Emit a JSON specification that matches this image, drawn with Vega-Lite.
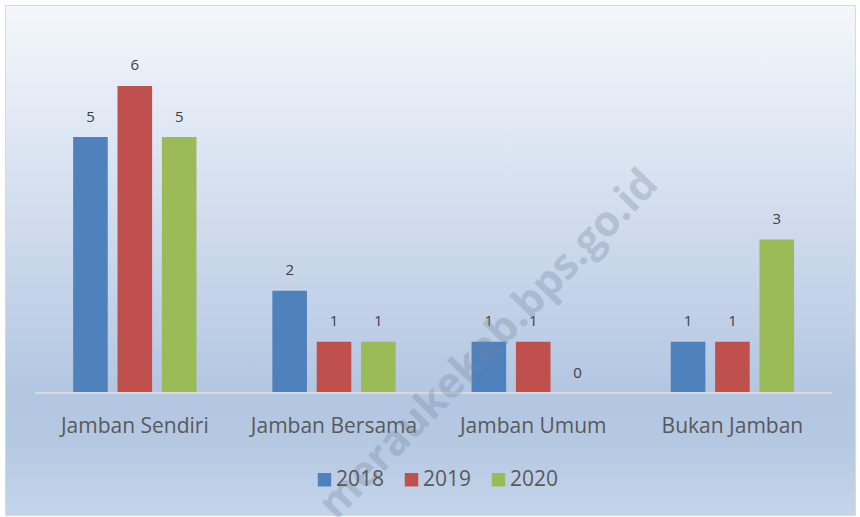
{
  "$schema": "https://vega.github.io/schema/vega-lite/v6.json",
  "width": 850,
  "height": 510,
  "autosize": {"type": "none"},
  "padding": {"left": 5, "top": 5, "right": 5, "bottom": 2},
  "background": "#ffffff",
  "view": {
    "fill": {
      "gradient": "linear", "x1": 0, "y1": 0, "x2": 0, "y2": 1,
      "stops": [
        {"offset": 0, "color": "#f4f7fc"},
        {"offset": 0.75, "color": "#b4c7e2"},
        {"offset": 0.85, "color": "#b5c8e2"},
        {"offset": 1, "color": "#c4d5ea"}
      ]
    },
    "stroke": "#d9d9d9",
    "strokeWidth": 1
  },
  "data": {
    "values": [
      {"kategori": "Jamban Sendiri", "tahun": "2018", "nilai": 5},
      {"kategori": "Jamban Sendiri", "tahun": "2019", "nilai": 6},
      {"kategori": "Jamban Sendiri", "tahun": "2020", "nilai": 5},
      {"kategori": "Jamban Bersama", "tahun": "2018", "nilai": 2},
      {"kategori": "Jamban Bersama", "tahun": "2019", "nilai": 1},
      {"kategori": "Jamban Bersama", "tahun": "2020", "nilai": 1},
      {"kategori": "Jamban Umum", "tahun": "2018", "nilai": 1},
      {"kategori": "Jamban Umum", "tahun": "2019", "nilai": 1},
      {"kategori": "Jamban Umum", "tahun": "2020", "nilai": 0},
      {"kategori": "Bukan Jamban", "tahun": "2018", "nilai": 1},
      {"kategori": "Bukan Jamban", "tahun": "2019", "nilai": 1},
      {"kategori": "Bukan Jamban", "tahun": "2020", "nilai": 3}
    ]
  },
  "layer": [
    {
      "mark": {"type": "bar"},
      "encoding": {
        "x": {
          "field": "kategori", "type": "nominal",
          "sort": ["Jamban Sendiri", "Jamban Bersama", "Jamban Umum", "Bukan Jamban"],
          "scale": {"paddingInner": 0.381, "paddingOuter": 0.324, "align": 0.528},
          "axis": {
            "title": null, "orient": "bottom", "offset": -122, "domain": false, "ticks": false,
            "labelAngle": 0, "labelFont": "Open Sans", "labelFontSize": 21, "labelColor": "#595959",
            "labelPadding": 22, "grid": false
          }
        },
        "xOffset": {"field": "tahun", "type": "nominal", "scale": {"paddingInner": 0.22, "paddingOuter": 0}},
        "y": {
          "field": "nilai", "type": "quantitative",
          "scale": {"domain": [0, 7.58], "range": [388, 0], "nice": false, "zero": true},
          "axis": null
        },
        "color": {
          "field": "tahun", "type": "nominal",
          "scale": {"domain": ["2018", "2019", "2020"], "range": ["#4f81bd", "#c0504d", "#9bbb59"]},
          "legend": {
            "title": null, "orient": "none", "direction": "horizontal",
            "legendX": 309, "legendY": 464, "padding": 0,
            "symbolType": "square", "symbolSize": 180, "symbolStrokeWidth": 0, "symbolOpacity": 1,
            "labelFont": "Open Sans", "labelFontSize": 21, "labelColor": "#595959",
            "labelOffset": 1, "columnPadding": 16
          }
        }
      }
    },
    {
      "mark": {"type": "text", "baseline": "alphabetic", "align": "center", "dy": -15.5, "font": "Open Sans", "fontSize": 15, "fill": "#404040"},
      "encoding": {
        "x": {"field": "kategori", "type": "nominal", "sort": ["Jamban Sendiri", "Jamban Bersama", "Jamban Umum", "Bukan Jamban"]},
        "xOffset": {"field": "tahun", "type": "nominal"},
        "y": {"field": "nilai", "type": "quantitative"},
        "text": {"field": "nilai", "type": "quantitative"}
      }
    },
    {
      "mark": {"type": "rule", "color": "#d9d9d9", "strokeWidth": 2},
      "encoding": {
        "x": {"field": "kategori", "type": "nominal", "sort": ["Jamban Sendiri", "Jamban Bersama", "Jamban Umum", "Bukan Jamban"], "bandPosition": -0.3078},
        "x2": {"field": "kategori", "bandPosition": 1.3078},
        "y": {"datum": 0}
      }
    },
    {
      "data": {"values": [{"t": "meraukekab.bps.go.id"}]},
      "mark": {"type": "text", "angle": -46, "align": "center", "baseline": "middle", "font": "Open Sans", "fontWeight": "bold", "fontSize": 42, "fill": "#72849e", "opacity": 0.3},
      "encoding": {
        "x": {"datum": "Jamban Umum"},
        "xOffset": {"datum": "2018"},
        "y": {"datum": 0.95},
        "text": {"field": "t", "type": "nominal"}
      }
    }
  ]
}
